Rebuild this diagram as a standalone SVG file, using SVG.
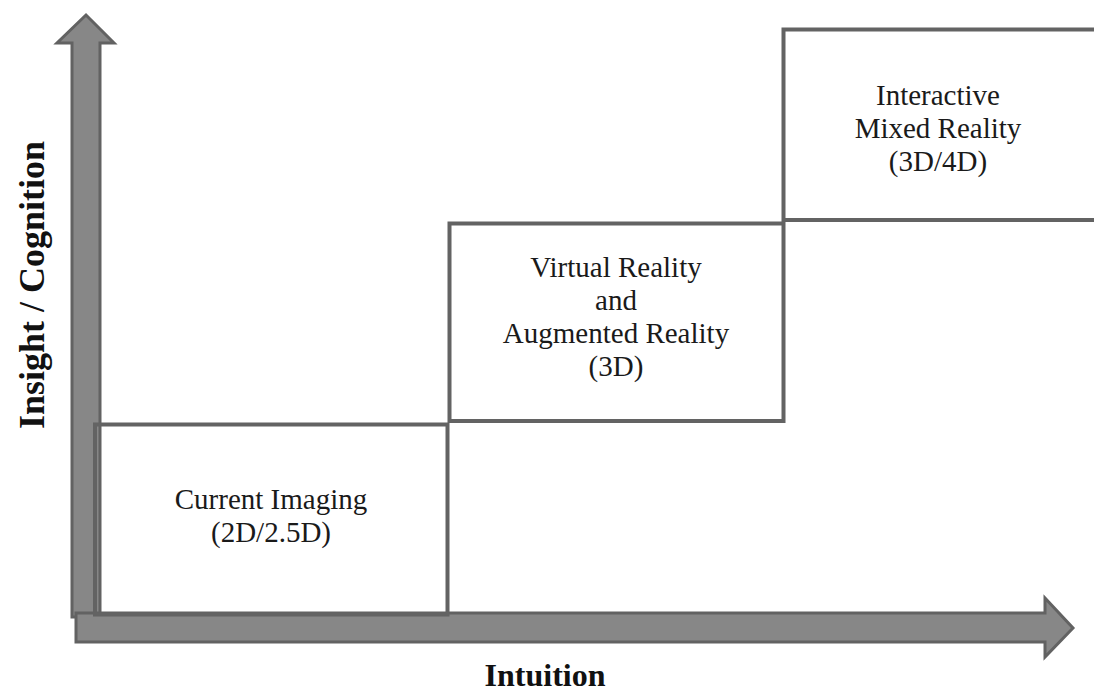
<svg xmlns="http://www.w3.org/2000/svg" width="1094" height="694" viewBox="0 0 1094 694">
<style>
.box{fill:none;stroke:#636363;stroke-width:4}
.arrow{fill:#878787;stroke:#626262;stroke-width:3;stroke-linejoin:miter}
.lbl{font-family:"Liberation Serif","Times New Roman",serif;font-size:29px;fill:#1a1a1a;text-anchor:middle}
.axis{font-family:"Liberation Serif","Times New Roman",serif;font-size:32px;font-weight:bold;fill:#111;text-anchor:middle}
</style>
<rect width="1094" height="694" fill="#fff"/>
<g id="connectors">
<polygon id="y-axis" class="arrow" points="72,617 72,43 57,43 86,15 114,43 100,43 100,617"/>
<polygon id="x-axis" class="arrow" points="76,613 1045,613 1045,598 1073,628 1045,657 1045,642 76,642"/>
</g>
<g id="node-current">
<rect class="box" x="95" y="424.5" width="352.5" height="190"/>
<text class="lbl" x="271" y="509">Current Imaging</text>
<text class="lbl" x="271" y="542">(2D/2.5D)</text>
</g>
<g id="node-vrar">
<rect class="box" x="449.5" y="223.5" width="334" height="197.5"/>
<text class="lbl" x="616" y="277">Virtual Reality</text>
<text class="lbl" x="616" y="310">and</text>
<text class="lbl" x="616" y="343">Augmented Reality</text>
<text class="lbl" x="616" y="376">(3D)</text>
</g>
<g id="node-mr">
<rect class="box" x="783.5" y="29.5" width="400" height="190.5"/>
<text class="lbl" x="938" y="105">Interactive</text>
<text class="lbl" x="938" y="138">Mixed Reality</text>
<text class="lbl" x="938" y="171">(3D/4D)</text>
</g>
<g id="labels">
<text class="axis" x="545" y="686">Intuition</text>
<text class="axis" style="font-size:36px" transform="translate(44,285) rotate(-90)">Insight / Cognition</text>
</g>
</svg>
